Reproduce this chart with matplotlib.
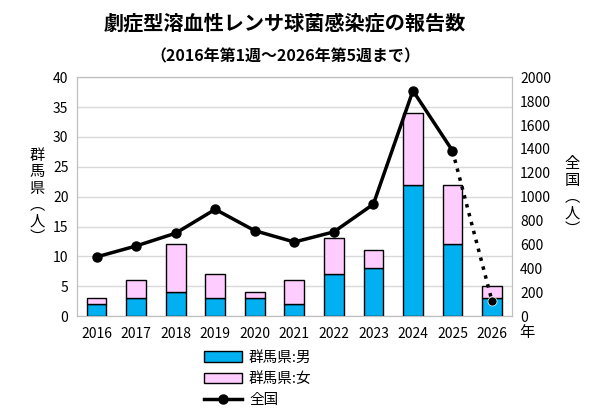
import matplotlib
matplotlib.use('Agg')
import matplotlib.pyplot as plt
from matplotlib.lines import Line2D
from matplotlib.patches import Patch
import numpy as np

plt.rcParams['font.family'] = ['Noto Sans CJK JP', 'DejaVu Sans']

years = ['2016', '2017', '2018', '2019', '2020', '2021', '2022', '2023', '2024', '2025', '2026']
male = [2, 3, 4, 3, 3, 2, 7, 8, 22, 12, 3]
female = [1, 3, 8, 4, 1, 4, 6, 3, 12, 10, 2]
national = [495, 587, 694, 894, 715, 620, 705, 937, 1888, 1385, 125]

fig = plt.figure(figsize=(6, 4.18), dpi=100)
ax1 = fig.add_axes([0.128, 0.244, 0.725, 0.571])
ax2 = ax1.twinx()

x = np.arange(len(years))
ax1.bar(x, male, width=0.5, color='#00B0F0', edgecolor='black', linewidth=1, zorder=3)
ax1.bar(x, female, width=0.5, bottom=male, color='#FFCCFF', edgecolor='black', linewidth=1, zorder=3)

ax1.set_ylim(0, 40)
ax1.set_yticks(range(0, 41, 5))
ax1.set_xlim(-0.5, len(years) - 0.5)
ax1.set_xticks(x)
ax1.set_xticklabels(years)
ax1.grid(axis='y', color='#d9d9d9', linewidth=1, zorder=0)
ax1.set_axisbelow(True)

ax2.plot(x[:-1], national[:-1], color='black', linewidth=2.5, marker='o', markersize=6.5, zorder=4)
ax2.plot(x[-2:], national[-2:], color='black', linewidth=2.5, linestyle=':', zorder=4)
ax2.plot(x[-1], national[-1], 'o', color='black', markersize=6.5, markeredgecolor='white', markeredgewidth=0.5, zorder=5)
ax2.set_ylim(0, 2000)
ax2.set_yticks(range(0, 2001, 200))

for a in (ax1, ax2):
    a.tick_params(length=0, labelsize=10, pad=6)
    for s in a.spines.values():
        s.set_color('#bfbfbf')
ax1.tick_params(axis='x', pad=8)

fig.text(0.062, 0.53, '群\n馬\n県\n︵\n人\n︶', fontsize=11, ha='center', va='center', linespacing=0.95)
fig.text(0.953, 0.53, '全\n国\n︵\n人\n︶', fontsize=11, ha='center', va='center', linespacing=0.95)
fig.text(0.878, 0.205, '年', fontsize=11, ha='center', va='center')

fig.text(0.475, 0.945, '劇症型溶血性レンサ球菌感染症の報告数', fontsize=14.5, fontweight='bold', ha='center', va='center')
fig.text(0.475, 0.865, '（2016年第1週～2026年第5週まで）', fontsize=11.5, fontweight='bold', ha='center', va='center')

handles = [Patch(facecolor='#00B0F0', edgecolor='black', label='群馬県:男'),
           Patch(facecolor='#FFCCFF', edgecolor='black', label='群馬県:女'),
           Line2D([0], [0], color='black', linewidth=2.5, marker='o', markersize=6.5, label='全国')]
fig.legend(handles=handles, loc='upper left', bbox_to_anchor=(0.33, 0.175), frameon=False,
           fontsize=10.5, handlelength=2.6, handleheight=0.7, handletextpad=0.5, labelspacing=0.5, borderaxespad=0)

fig.savefig('out.png', dpi=100)
